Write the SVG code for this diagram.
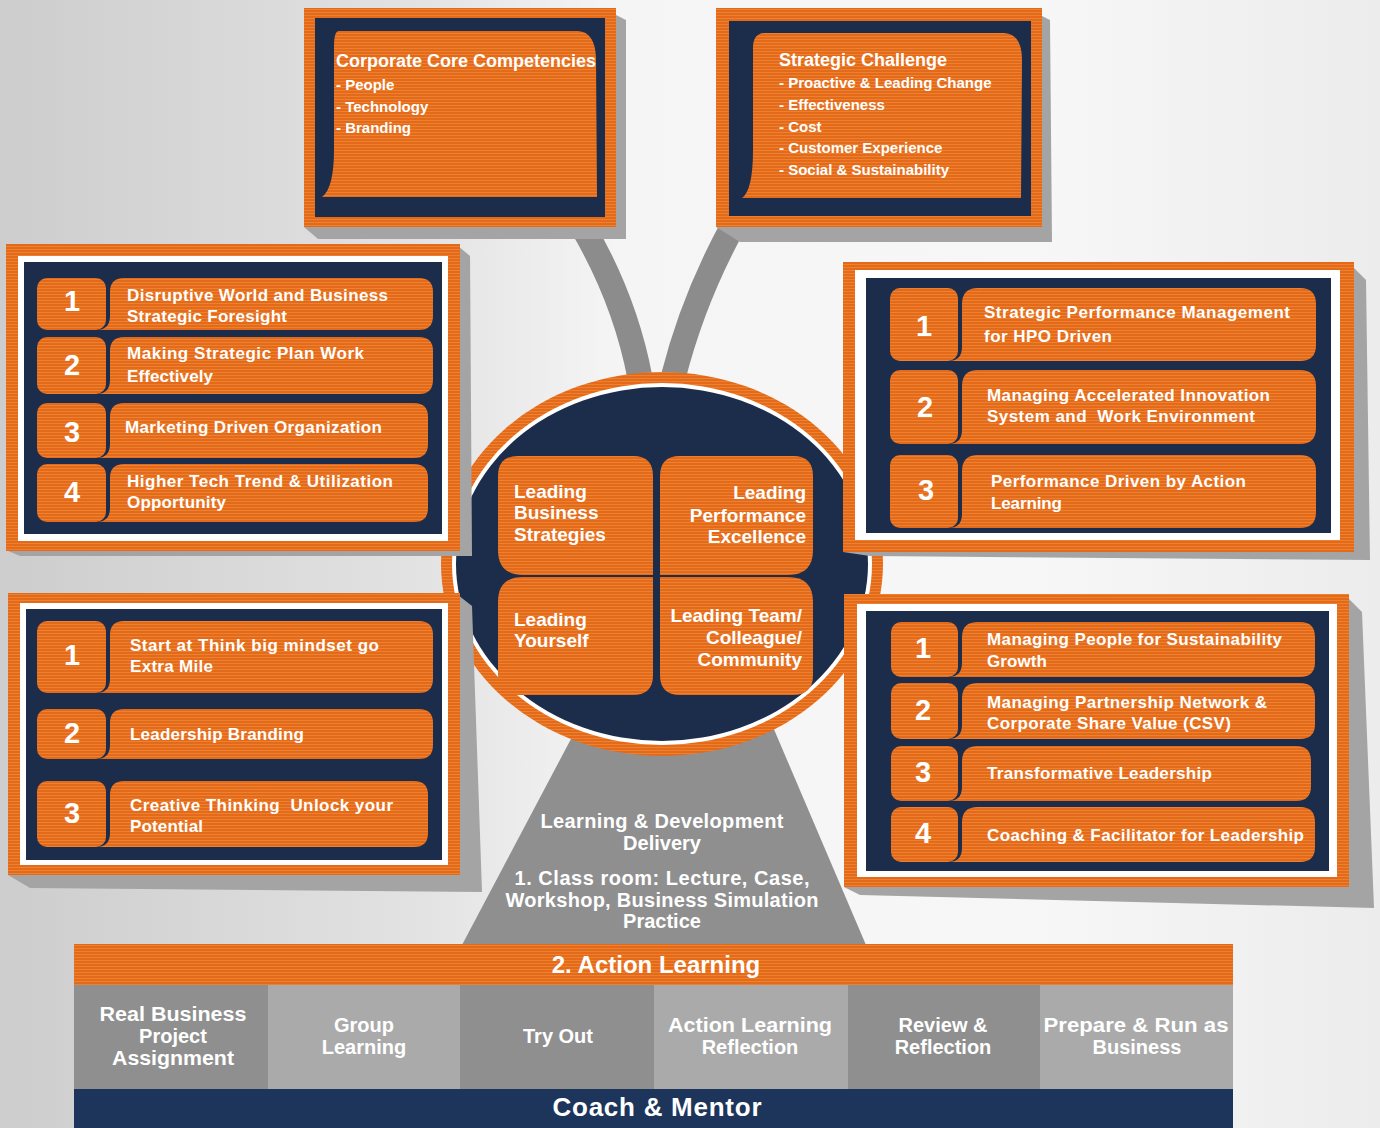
<svg xmlns="http://www.w3.org/2000/svg" width="1380" height="1128" viewBox="0 0 1380 1128">
<defs>
<linearGradient id="bg" x1="0" y1="0" x2="1" y2="0">
<stop offset="0" stop-color="#cdcdcd"/><stop offset="0.3" stop-color="#e2e2e2"/><stop offset="0.45" stop-color="#f5f5f5"/><stop offset="0.75" stop-color="#f7f7f7"/><stop offset="1" stop-color="#ececec"/>
</linearGradient>
<pattern id="stripe" patternUnits="userSpaceOnUse" width="8" height="3">
<rect width="8" height="3" fill="#e36a1b"/>
<rect y="0" width="8" height="1" fill="#ee812e"/>
</pattern>
</defs>
<style>
.o{fill:url(#stripe)}
.nv{fill:#1c2d4b}
.wt{fill:#ffffff}
.sh{fill:#a4a4a4}
.dk{fill:#8f8f8f}
.lt{fill:#aaaaaa}
.t{font-family:"Liberation Sans",Arial,Helvetica,sans-serif;fill:#ffffff;font-weight:bold}
.n{font-size:29px;text-anchor:middle}
.p{font-size:17px}
.c{font-size:19px}
.h{font-size:18px}
.i{font-size:15px}
.d{font-size:20px;text-anchor:middle}
.b{font-size:20px;text-anchor:middle}
.e{text-anchor:end}
.conn{fill:none;stroke:#8c8c8c;stroke-width:25}
</style>

<rect width="1380" height="1128" fill="url(#bg)"/>

<g id="delivery">
<polygon class="dk" points="462,945 866,945 770,720 581,720"/>
<text class="t d" x="662" y="828" textLength="243" lengthAdjust="spacing">Learning &amp; Development</text>
<text class="t d" x="662" y="850">Delivery</text>
<text class="t d" x="662" y="885" textLength="295" lengthAdjust="spacing">1. Class room: Lecture, Case,</text>
<text class="t d" x="662" y="907" textLength="313" lengthAdjust="spacing">Workshop, Business Simulation</text>
<text class="t d" x="662" y="928">Practice</text>
</g>

<g id="connectors">
<path class="conn" d="M582,226 Q625,299 640,378"/>
<path class="conn" d="M733,226 Q693,299 673,378"/>
</g>

<g id="core-competencies">
<polygon class="sh" points="606,10 626,20 626,239 318,239 304,227"/>
<rect class="o" x="304" y="8" width="312" height="219"/>
<rect class="nv" x="315" y="18" width="290" height="199"/>
<path class="o" d="M339,31 H578 Q595,32 596,58 L597,197 H322 Q334,188 334,150 V46 Q334,31 339,31 Z"/>
<text class="t h" x="336" y="67">Corporate Core Competencies</text>
<text class="t i" x="336" y="90">- People</text>
<text class="t i" x="336" y="112">- Technology</text>
<text class="t i" x="336" y="133">- Branding</text>
</g>

<g id="strategic-challenge">
<polygon class="sh" points="1030,10 1050,20 1052,242 740,242 716,227"/>
<rect class="o" x="716" y="8" width="326" height="219"/>
<rect class="nv" x="729" y="21" width="302" height="195"/>
<path class="o" d="M765,33 H1004 Q1022,34 1022,60 L1021,198 H742 Q753,190 753,150 V48 Q753,33 765,33 Z"/>
<text class="t h" x="779" y="66">Strategic Challenge</text>
<text class="t i" x="779" y="88">- Proactive &amp; Leading Change</text>
<text class="t i" x="779" y="110">- Effectiveness</text>
<text class="t i" x="779" y="132">- Cost</text>
<text class="t i" x="779" y="153">- Customer Experience</text>
<text class="t i" x="779" y="175">- Social &amp; Sustainability</text>
</g>

<g id="center-circle">
<ellipse cx="662" cy="564" rx="221" ry="192" class="o"/>
<ellipse cx="662" cy="564" rx="210" ry="181" class="wt"/>
<ellipse cx="662" cy="564" rx="206" ry="177" class="nv"/>
<path class="o" d="M518,456 H633 Q653,456 653,476 V575 H523 Q498,575 498,550 V476 Q498,456 518,456 Z"/>
<path class="o" d="M523,577 H653 V675 Q653,695 633,695 H518 Q498,695 498,675 V602 Q498,577 523,577 Z"/>
<path class="o" d="M680,456 H793 Q813,456 813,476 V550 Q813,575 788,575 H660 V476 Q660,456 680,456 Z"/>
<path class="o" d="M660,577 H788 Q813,577 813,602 V675 Q813,695 793,695 H680 Q660,695 660,675 Z"/>
<text class="t c" x="514" y="498">Leading</text>
<text class="t c" x="514" y="519">Business</text>
<text class="t c" x="514" y="541">Strategies</text>
<text class="t c e" x="806" y="499">Leading</text>
<text class="t c e" x="806" y="522">Performance</text>
<text class="t c e" x="806" y="543">Excellence</text>
<text class="t c" x="514" y="626">Leading</text>
<text class="t c" x="514" y="647">Yourself</text>
<text class="t c e" x="802" y="622">Leading Team/</text>
<text class="t c e" x="802" y="644">Colleague/</text>
<text class="t c e" x="802" y="666">Community</text>
</g>

<g id="business-strategies-panel">
<polygon class="sh" points="458,246 470,256 472,556 20,556 6,550"/>
<rect class="o" x="6" y="244" width="454" height="307"/>
<rect class="wt" x="18" y="256" width="430" height="285"/>
<rect class="nv" x="24" y="262" width="418" height="272"/>
<rect class="o" x="37" y="278" width="69" height="52" rx="10"/>
<path class="o" d="M124,278 H419 Q433,278 433,292 V316 Q433,330 419,330 H96 Q110,330 110,316 V292 Q110,278 124,278 Z"/>
<rect class="o" x="37" y="337" width="69" height="57" rx="10"/>
<path class="o" d="M124,337 H419 Q433,337 433,351 V380 Q433,394 419,394 H96 Q110,394 110,380 V351 Q110,337 124,337 Z"/>
<rect class="o" x="37" y="403" width="69" height="55" rx="10"/>
<path class="o" d="M124,403 H414 Q428,403 428,417 V444 Q428,458 414,458 H96 Q110,458 110,444 V417 Q110,403 124,403 Z"/>
<rect class="o" x="37" y="464" width="69" height="58" rx="10"/>
<path class="o" d="M124,464 H414 Q428,464 428,478 V508 Q428,522 414,522 H96 Q110,522 110,508 V478 Q110,464 124,464 Z"/>
<text class="t n" x="72" y="311">1</text>
<text class="t n" x="72" y="375">2</text>
<text class="t n" x="72" y="442">3</text>
<text class="t n" x="72" y="502">4</text>
<text class="t p" x="127" y="301" textLength="261" lengthAdjust="spacing">Disruptive World and Business</text>
<text class="t p" x="127" y="322" textLength="160" lengthAdjust="spacing">Strategic Foresight</text>
<text class="t p" x="127" y="359" textLength="237" lengthAdjust="spacing">Making Strategic Plan Work</text>
<text class="t p" x="127" y="382" textLength="86" lengthAdjust="spacing">Effectively</text>
<text class="t p" x="125" y="433" textLength="257" lengthAdjust="spacing">Marketing Driven Organization</text>
<text class="t p" x="127" y="487" textLength="266" lengthAdjust="spacing">Higher Tech Trend &amp; Utilization</text>
<text class="t p" x="127" y="508" textLength="99" lengthAdjust="spacing">Opportunity</text>
</g>

<g id="yourself-panel">
<polygon class="sh" points="458,595 472,606 482,892 30,888 8,875"/>
<rect class="o" x="8" y="593" width="452" height="282"/>
<rect class="wt" x="20" y="603" width="428" height="262"/>
<rect class="nv" x="26" y="609" width="416" height="251"/>
<rect class="o" x="37" y="621" width="69" height="72" rx="10"/>
<path class="o" d="M124,621 H419 Q433,621 433,635 V679 Q433,693 419,693 H96 Q110,693 110,679 V635 Q110,621 124,621 Z"/>
<rect class="o" x="37" y="709" width="69" height="50" rx="10"/>
<path class="o" d="M124,709 H419 Q433,709 433,723 V745 Q433,759 419,759 H96 Q110,759 110,745 V723 Q110,709 124,709 Z"/>
<rect class="o" x="37" y="781" width="69" height="66" rx="10"/>
<path class="o" d="M124,781 H414 Q428,781 428,795 V833 Q428,847 414,847 H96 Q110,847 110,833 V795 Q110,781 124,781 Z"/>
<text class="t n" x="72" y="665">1</text>
<text class="t n" x="72" y="743">2</text>
<text class="t n" x="72" y="823">3</text>
<text class="t p" x="130" y="651" textLength="249" lengthAdjust="spacing">Start at Think big mindset go</text>
<text class="t p" x="130" y="672" textLength="83" lengthAdjust="spacing">Extra Mile</text>
<text class="t p" x="130" y="740" textLength="174" lengthAdjust="spacing">Leadership Branding</text>
<text class="t p" x="130" y="811" textLength="263" lengthAdjust="spacing" xml:space="preserve">Creative Thinking  Unlock your</text>
<text class="t p" x="130" y="832" textLength="73" lengthAdjust="spacing">Potential</text>
</g>

<g id="performance-panel">
<polygon class="sh" points="1350,264 1366,280 1370,560 870,556 843,552"/>
<rect class="o" x="843" y="262" width="511" height="290"/>
<rect class="wt" x="855" y="270" width="485" height="270"/>
<rect class="nv" x="866" y="278" width="465" height="255"/>
<rect class="o" x="890" y="288" width="68" height="73" rx="10"/>
<path class="o" d="M978,288 H1300 Q1316,288 1316,304 V345 Q1316,361 1300,361 H948 Q962,361 962,347 V304 Q962,288 978,288 Z"/>
<rect class="o" x="890" y="370" width="68" height="74" rx="10"/>
<path class="o" d="M978,370 H1300 Q1316,370 1316,386 V428 Q1316,444 1300,444 H948 Q962,444 962,430 V386 Q962,370 978,370 Z"/>
<rect class="o" x="890" y="455" width="68" height="73" rx="10"/>
<path class="o" d="M978,455 H1300 Q1316,455 1316,471 V512 Q1316,528 1300,528 H948 Q962,528 962,514 V471 Q962,455 978,455 Z"/>
<text class="t n" x="924" y="336">1</text>
<text class="t n" x="925" y="417">2</text>
<text class="t n" x="926" y="500">3</text>
<text class="t p" x="984" y="318" textLength="306" lengthAdjust="spacing">Strategic Performance Management</text>
<text class="t p" x="984" y="342" textLength="128" lengthAdjust="spacing">for HPO Driven</text>
<text class="t p" x="987" y="401" textLength="283" lengthAdjust="spacing">Managing Accelerated Innovation</text>
<text class="t p" x="987" y="422" textLength="268" lengthAdjust="spacing" xml:space="preserve">System and  Work Environment</text>
<text class="t p" x="991" y="487" textLength="255" lengthAdjust="spacing">Performance Driven by Action</text>
<text class="t p" x="991" y="509" textLength="71" lengthAdjust="spacing">Learning</text>
</g>

<g id="team-panel">
<polygon class="sh" points="1346,596 1362,612 1374,908 860,895 844,887"/>
<rect class="o" x="844" y="594" width="505" height="293"/>
<rect class="wt" x="857" y="604" width="480" height="273"/>
<rect class="nv" x="866" y="611" width="463" height="260"/>
<rect class="o" x="891" y="622" width="67" height="55" rx="10"/>
<path class="o" d="M978,622 H1300 Q1315,622 1315,637 V662 Q1315,677 1300,677 H948 Q962,677 962,663 V637 Q962,622 978,622 Z"/>
<rect class="o" x="891" y="683" width="67" height="56" rx="10"/>
<path class="o" d="M978,683 H1300 Q1315,683 1315,698 V724 Q1315,739 1300,739 H948 Q962,739 962,725 V698 Q962,683 978,683 Z"/>
<rect class="o" x="891" y="746" width="67" height="55" rx="10"/>
<path class="o" d="M978,746 H1296 Q1311,746 1311,761 V786 Q1311,801 1296,801 H948 Q962,801 962,787 V761 Q962,746 978,746 Z"/>
<rect class="o" x="891" y="807" width="67" height="55" rx="10"/>
<path class="o" d="M978,807 H1300 Q1315,807 1315,822 V847 Q1315,862 1300,862 H948 Q962,862 962,848 V822 Q962,807 978,807 Z"/>
<text class="t n" x="923" y="658">1</text>
<text class="t n" x="923" y="720">2</text>
<text class="t n" x="923" y="782">3</text>
<text class="t n" x="923" y="843">4</text>
<text class="t p" x="987" y="645" textLength="295" lengthAdjust="spacing">Managing People for Sustainability</text>
<text class="t p" x="987" y="667" textLength="60" lengthAdjust="spacing">Growth</text>
<text class="t p" x="987" y="708" textLength="280" lengthAdjust="spacing">Managing Partnership Network &amp;</text>
<text class="t p" x="987" y="729" textLength="244" lengthAdjust="spacing">Corporate Share Value (CSV)</text>
<text class="t p" x="987" y="779" textLength="225" lengthAdjust="spacing">Transformative Leadership</text>
<text class="t p" x="987" y="841" textLength="317" lengthAdjust="spacing">Coaching &amp; Facilitator for Leadership</text>
</g>

<g id="action-learning">
<rect class="o" x="74" y="944" width="1159" height="41"/>
<text class="t" x="656" y="973" font-size="24" text-anchor="middle">2. Action Learning</text>
</g>

<g id="cell-real-business">
<rect class="dk" x="74" y="985" width="194" height="104"/>
<text class="t b" x="173" y="1021" textLength="147" lengthAdjust="spacingAndGlyphs">Real Business</text>
<text class="t b" x="173" y="1043">Project</text>
<text class="t b" x="173" y="1065" textLength="122" lengthAdjust="spacingAndGlyphs">Assignment</text>
</g>
<g id="cell-group-learning">
<rect class="lt" x="268" y="985" width="192" height="104"/>
<text class="t b" x="364" y="1032">Group</text>
<text class="t b" x="364" y="1054">Learning</text>
</g>
<g id="cell-try-out">
<rect class="dk" x="460" y="985" width="194" height="104"/>
<text class="t b" x="558" y="1043">Try Out</text>
</g>
<g id="cell-al-reflection">
<rect class="lt" x="654" y="985" width="194" height="104"/>
<text class="t b" x="750" y="1032" textLength="164" lengthAdjust="spacingAndGlyphs">Action Learning</text>
<text class="t b" x="750" y="1054">Reflection</text>
</g>
<g id="cell-review">
<rect class="dk" x="848" y="985" width="192" height="104"/>
<text class="t b" x="943" y="1032">Review &amp;</text>
<text class="t b" x="943" y="1054">Reflection</text>
</g>
<g id="cell-prepare">
<rect class="lt" x="1040" y="985" width="193" height="104"/>
<text class="t b" x="1136" y="1032" textLength="185" lengthAdjust="spacingAndGlyphs">Prepare &amp; Run as</text>
<text class="t b" x="1137" y="1054">Business</text>
</g>

<g id="coach-mentor">
<rect x="74" y="1089" width="1159" height="39" fill="#1d355a"/>
<text class="t" x="657" y="1116" font-size="26" text-anchor="middle" textLength="209" lengthAdjust="spacing">Coach &amp; Mentor</text>
</g>
</svg>
